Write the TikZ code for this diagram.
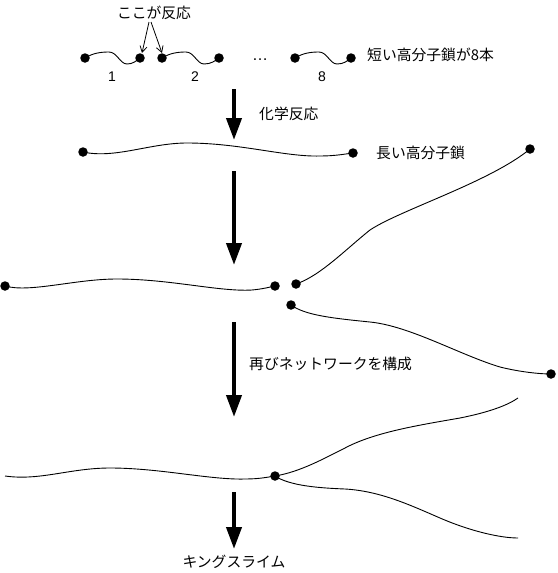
\documentclass[tikz,border=0pt]{standalone}
\usepackage{fontspec}
\setmainfont{Liberation Sans}
\newfontfamily\jp{Noto Sans CJK JP}
\usetikzlibrary{arrows.meta}
\tikzset{
  dot/.style={circle,fill=black,inner sep=0pt,minimum size=9.5pt},
  chain/.style={line width=0.9pt},
  bigarrow/.style={line width=4pt,-{Triangle[length=22pt,width=15pt]}},
  smallarrow/.style={line width=0.8pt,-{Straight Barb[length=6pt,width=7pt]}},
  jplabel/.style={font=\jp\fontsize{14.8}{17}\selectfont,inner sep=0pt},
  numlabel/.style={font=\fontsize{14}{16}\selectfont,inner sep=0pt}
}
\begin{document}
\begin{tikzpicture}[x=1pt,y=-1pt]
\useasboundingbox (0,0) rectangle (557,573);
% ---- top row: short chains
\node[dot] (s1a) at (85,58) {};
\node[dot] (s1b) at (140,58) {};
\node[dot] (s2a) at (162,58) {};
\node[dot] (s2b) at (219,58) {};
\node[dot] (s8a) at (295,58) {};
\node[dot] (s8b) at (351,58) {};
\draw[chain] (s1a.center) .. controls (93,53) and (101,52) .. (109,52) .. controls (117,52) and (120,64) .. (127,64) .. controls (133,64) and (136,61) .. (s1b.center);
\draw[chain] (s2a.center) .. controls (170,53) and (178,52) .. (186,52) .. controls (194,52) and (197,64) .. (204,64) .. controls (211,64) and (215,61) .. (s2b.center);
\draw[chain] (s8a.center) .. controls (303,53) and (311,52) .. (319,52) .. controls (327,52) and (330,64) .. (337,64) .. controls (344,64) and (347,61) .. (s8b.center);
\node[numlabel] (n1) at (112,77) {1};
\node[numlabel] (n2) at (195,77) {2};
\node[numlabel] (n8) at (322,77) {8};
\node[font=\fontsize{16}{18}\selectfont,inner sep=0pt,anchor=base] (dots) at (260,60) {…};
\node[jplabel] (here) at (154,13) {ここが反応};
\coordinate (h1) at (149,22);
\coordinate (h2) at (151,22);
\coordinate (t1) at (142,53);
\coordinate (t2) at (162,53);
\draw[smallarrow] (h1) -- (t1);
\draw[smallarrow] (h2) -- (t2);
\node[jplabel,anchor=west] (short) at (367,55) {短い高分子鎖が8本};
% ---- arrow 1
\coordinate (a1s) at (234,89);
\coordinate (a1e) at (234,140);
\draw[bigarrow] (a1s) -- (a1e);
\node[jplabel,anchor=west] (chem) at (259,114) {化学反応};
% ---- long chain
\node[dot] (l1) at (83,152) {};
\node[dot] (l2) at (353,153) {};
\draw[chain] (l1.center) .. controls (115,159) and (150,143) .. (187,143) .. controls (240,143) and (285,157) .. (320,156) .. controls (335,156) and (345,154) .. (l2.center);
\node[jplabel,anchor=west] (long) at (376,153) {長い高分子鎖};
% ---- arrow 2
\coordinate (a2s) at (234,171);
\coordinate (a2e) at (234,265);
\draw[bigarrow] (a2s) -- (a2e);
% ---- row 3
\node[dot] (r1) at (5,286) {};
\node[dot] (r2) at (275,286) {};
\node[dot] (u1) at (296,284) {};
\node[dot] (u2) at (530,149) {};
\node[dot] (w1) at (291,305) {};
\node[dot] (w2) at (551,374) {};
\draw[chain] (r1.center) .. controls (30,293) and (75,279) .. (117,279) .. controls (170,279) and (220,292) .. (252,290) .. controls (263,289) and (270,287) .. (r2.center);
\draw[chain] (u1.center) .. controls (320,276) and (345,250) .. (370,230) .. controls (400,210) and (490,182) .. (u2.center);
\draw[chain] (w1.center) .. controls (305,315) and (330,318) .. (370,322) .. controls (410,326) and (460,355) .. (500,367) .. controls (520,372) and (540,374) .. (w2.center);
% ---- arrow 3
\coordinate (a3s) at (234,322);
\coordinate (a3e) at (234,417);
\draw[bigarrow] (a3s) -- (a3e);
\node[jplabel,anchor=west] (net) at (249,364) {再びネットワークを構成};
% ---- final network
\coordinate (f0) at (5,476);
\node[dot] (fj) at (275,476) {};
\coordinate (fu) at (518,398);
\coordinate (fl) at (518,538);
\draw[chain] (f0) .. controls (40,481) and (70,468) .. (110,468) .. controls (160,468) and (210,480) .. (245,479) .. controls (260,479) and (268,477) .. (fj.center);
\draw[chain] (fj.center) .. controls (300,472) and (325,458) .. (345,448) .. controls (375,432) and (420,425) .. (460,418) .. controls (490,412) and (508,405) .. (fu);
\draw[chain] (fj.center) .. controls (290,486) and (320,488) .. (345,489) .. controls (380,491) and (410,505) .. (440,518) .. controls (470,531) and (500,538) .. (fl);
% ---- arrow 4
\coordinate (a4s) at (234,492);
\coordinate (a4e) at (234,549);
\draw[bigarrow] (a4s) -- (a4e);
\node[jplabel] (king) at (234,562) {キングスライム};
\end{tikzpicture}
\end{document}
